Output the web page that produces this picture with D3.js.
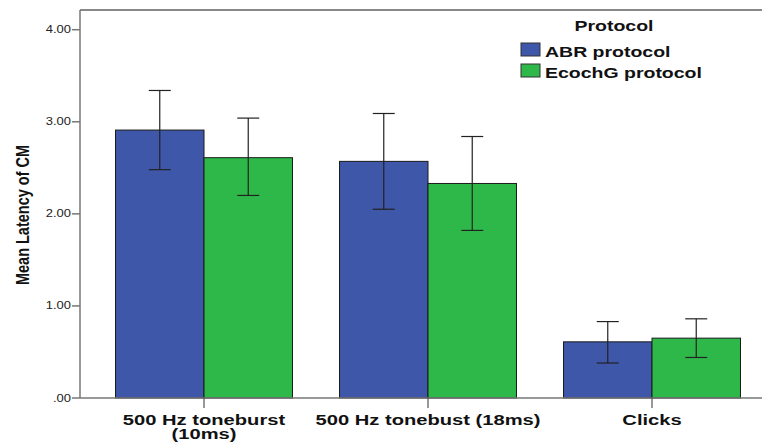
<!DOCTYPE html>
<html>
<head>
    <script src="https://d3js.org/d3.v7.min.js"></script>
    <style>
        body { margin: 0; background: #fff; }
        text { font-family: "Liberation Sans", Arial, sans-serif; }
    </style>
</head>
<body>
	<svg id="chart" width="762" height="443"></svg>
	<script>
		// data
		var categories = ["500 Hz toneburst\n(10ms)", "500 Hz tonebust (18ms)", "Clicks"];
		var series = ["ABR protocol", "EcochG protocol"];
		var abrMean = [2.91, 2.57, 0.61];
		var abrLow = [2.48, 2.05, 0.38];
		var abrHigh = [3.34, 3.09, 0.83];
		var ecochMean = [2.61, 2.33, 0.65];
		var ecochLow = [2.20, 1.82, 0.44];
		var ecochHigh = [3.04, 2.84, 0.86];
		var yTicks = [0, 1, 2, 3, 4];
		var colors = ["#3e57a8", "#2fb84a"];

		var stretch = 1.3; // the original picture is widened

		var svg = d3.select("#chart");
		var plotLeft = 80, plotRight = 762, plotTop = 10, plotBottom = 398;

		var rows = [];
		categories.forEach(function(c, i) {
			rows.push({cat: c, s: series[0], mean: abrMean[i], lo: abrLow[i], hi: abrHigh[i]});
			rows.push({cat: c, s: series[1], mean: ecochMean[i], lo: ecochLow[i], hi: ecochHigh[i]});
		});

		var y = d3.scaleLinear().domain([0, 4.214]).range([plotBottom, plotTop]);
		var x0 = d3.scaleBand().domain(categories).range([92, 764]).paddingInner(0.21).paddingOuter(0.105);
		var x1 = d3.scaleBand().domain(series).range([0, x0.bandwidth()]);
		var color = d3.scaleOrdinal().domain(series).range(colors);

		// frame line on top
		svg.append("line").attr("x1", plotLeft).attr("x2", plotRight).attr("y1", plotTop).attr("y2", plotTop)
			.attr("stroke", "#888").attr("stroke-width", 2);

		// bars
		svg.selectAll(".bar")
			.data(rows)
			.enter()
			.append("rect")
			.attr("class", "bar")
			.attr("x", function(d) { return x0(d.cat) + x1(d.s); })
			.attr("y", function(d) { return y(d.mean); })
			.attr("width", x1.bandwidth())
			.attr("height", function(d) { return y(0) - y(d.mean); })
			.attr("fill", function(d) { return color(d.s); })
			.attr("stroke", "#1a1a1a")
			.attr("stroke-width", 1);

		// error bars
		var err = svg.selectAll(".err")
			.data(rows)
			.enter()
			.append("g")
			.attr("class", "err")
			.attr("transform", function(d) { return "translate(" + (x0(d.cat) + x1(d.s) + x1.bandwidth() / 2) + ",0)"; })
			.attr("stroke", "#222")
			.attr("stroke-width", 1.2);
		err.append("line").attr("x1", 0).attr("x2", 0)
			.attr("y1", function(d) { return y(d.lo); })
			.attr("y2", function(d) { return y(d.hi); });
		err.append("line").attr("x1", -11).attr("x2", 11)
			.attr("y1", function(d) { return y(d.hi); })
			.attr("y2", function(d) { return y(d.hi); });
		err.append("line").attr("x1", -11).attr("x2", 11)
			.attr("y1", function(d) { return y(d.lo); })
			.attr("y2", function(d) { return y(d.lo); });

		// y axis
		svg.append("line").attr("x1", plotLeft).attr("x2", plotLeft).attr("y1", plotTop).attr("y2", plotBottom)
			.attr("stroke", "#777").attr("stroke-width", 1.5);
		var yt = svg.selectAll(".ytick")
			.data(yTicks)
			.enter()
			.append("g")
			.attr("class", "ytick")
			.attr("transform", function(d) { return "translate(0," + y(d) + ")"; });
		yt.append("line").attr("x1", plotLeft - 8).attr("x2", plotLeft).attr("stroke", "#777").attr("stroke-width", 1.5);
		yt.append("text")
			.attr("transform", "translate(" + (plotLeft - 9) + ",3.5) scale(" + stretch + ",1)")
			.attr("text-anchor", "end")
			.attr("font-size", "10px")
			.attr("fill", "#222")
			.text(function(d) { return d === 0 ? ".00" : d3.format(".2f")(d); });

		svg.append("text")
			.attr("transform", "translate(29,215) scale(" + stretch + ",1) rotate(-90)")
			.attr("text-anchor", "middle")
			.attr("font-size", "14.5px")
			.attr("font-weight", "bold")
			.attr("fill", "#111")
			.text("Mean Latency of CM");

		// x axis
		svg.append("line").attr("x1", plotLeft).attr("x2", plotRight).attr("y1", plotBottom).attr("y2", plotBottom)
			.attr("stroke", "#777").attr("stroke-width", 1.5);
		var xt = svg.selectAll(".xtick")
			.data(categories)
			.enter()
			.append("g")
			.attr("class", "xtick")
			.attr("transform", function(d) { return "translate(" + (x0(d) + x0.bandwidth() / 2) + "," + plotBottom + ")"; });
		xt.append("line").attr("y1", 0).attr("y2", 10).attr("stroke", "#555").attr("stroke-width", 1.2);
		// one text per label, extra lines as tspans
		var xlab = xt.append("text")
			.attr("transform", "translate(0,27) scale(" + stretch + ",1)")
			.attr("text-anchor", "middle")
			.attr("font-size", "15.5px")
			.attr("font-weight", "bold")
			.attr("fill", "#111");
		xlab.selectAll("tspan")
			.data(function(d) { return d.split("\n"); })
			.enter()
			.append("tspan")
			.attr("x", 0)
			.attr("dy", function(t, k) { return k === 0 ? 0 : 14; })
			.text(function(t) { return t; });

		// legend
		var legend = svg.append("g");
		legend.append("text")
			.attr("transform", "translate(614,31) scale(" + stretch + ",1)")
			.attr("text-anchor", "middle")
			.attr("font-size", "15px")
			.attr("font-weight", "bold")
			.attr("fill", "#111")
			.text("Protocol");
		var item = legend.selectAll(".item")
			.data(series)
			.enter()
			.append("g")
			.attr("class", "item")
			.attr("transform", function(d, i) { return "translate(521," + (43 + i * 21) + ")"; });
		item.append("rect")
			.attr("width", 19).attr("height", 13)
			.attr("fill", function(d) { return color(d); })
			.attr("stroke", "#333");
		item.append("text")
			.attr("transform", "translate(24,14) scale(" + stretch + ",1)")
			.attr("font-size", "15px")
			.attr("font-weight", "bold")
			.attr("fill", "#111")
			.text(function(d) { return d; });
	</script>
</body>
</html>
